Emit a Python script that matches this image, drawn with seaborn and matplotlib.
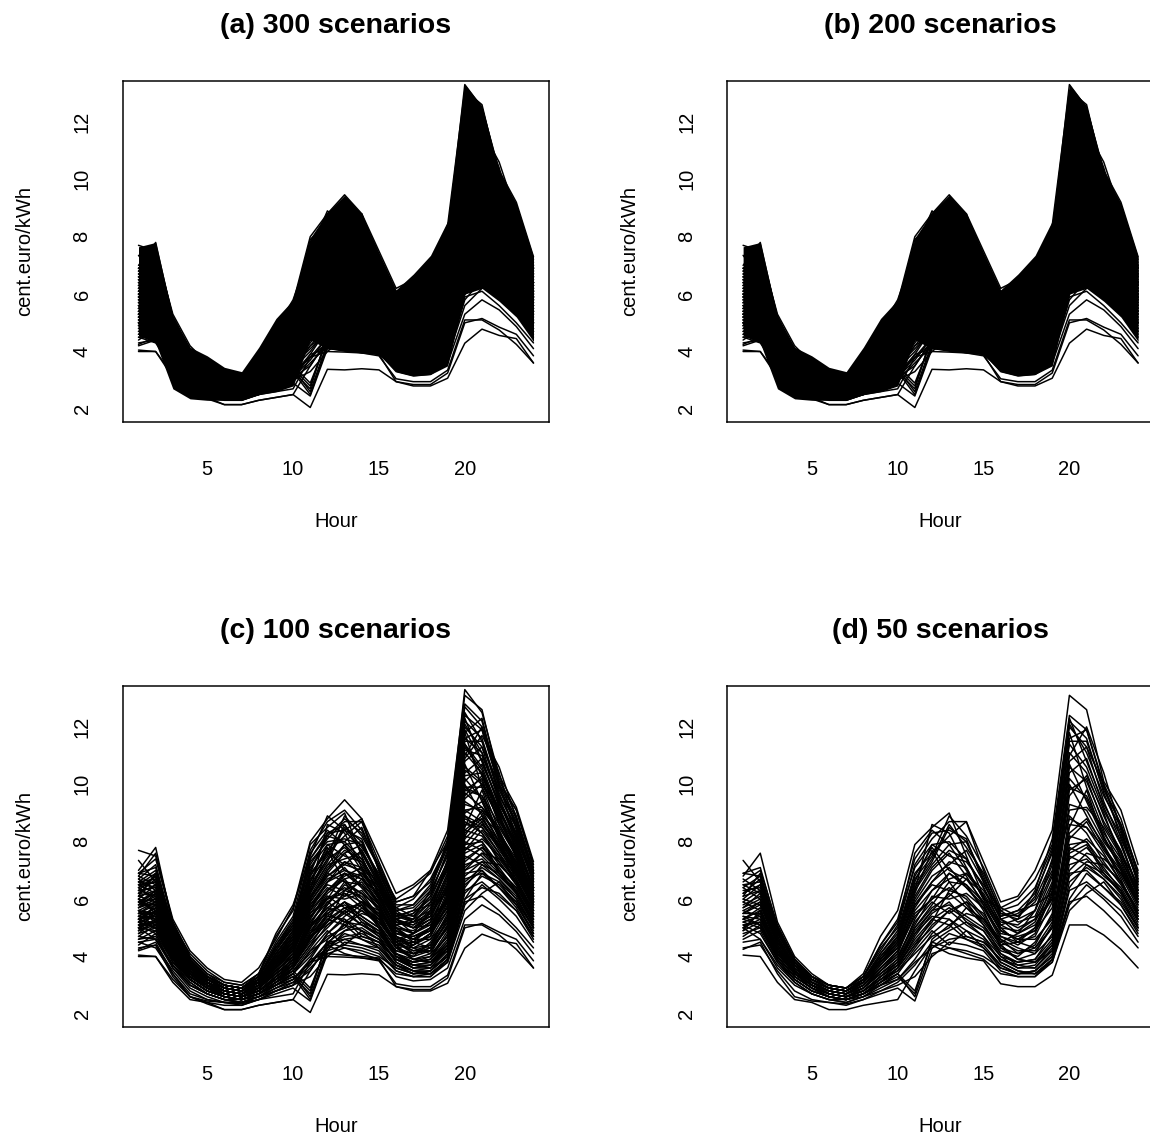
import matplotlib
matplotlib.use("Agg")
import matplotlib.pyplot as plt
import numpy as np
import pandas as pd
import seaborn as sns

hours = list(range(1, 25))

# ---- reduced scenario set (50 scenarios) -------------------------------
d01 = [6.8, 7.6, 5.2, 4.0, 3.4, 3.0, 2.9, 3.3, 4.3, 5.0, 7.2, 8.1, 8.7, 8.7, 7.3, 5.9, 6.1, 7.0, 8.4, 13.1, 12.6, 10.1, 9.1, 7.2]
d02 = [7.35, 6.6, 5.0, 3.9, 3.3, 3.0, 2.9, 3.4, 4.7, 5.6, 7.9, 8.5, 9.0, 7.5, 6.1, 5.1, 5.3, 6.3, 8.1, 12.4, 11.9, 10.0, 8.8, 6.9]
d03 = [6.1, 6.9, 4.8, 3.8, 3.2, 2.9, 2.8, 3.2, 4.0, 4.7, 6.3, 8.6, 8.3, 7.1, 6.0, 5.7, 6.0, 6.7, 7.9, 12.1, 11.1, 9.6, 8.5, 6.6]
d04 = [5.3, 5.7, 4.2, 3.5, 3.0, 2.7, 2.6, 2.9, 3.4, 3.9, 5.3, 6.3, 6.9, 6.5, 5.6, 4.3, 3.9, 4.1, 5.1, 8.9, 8.3, 7.3, 6.5, 5.5]
d05 = [4.05, 4.0, 3.1, 2.5, 2.4, 2.15, 2.15, 2.3, 2.4, 2.5, 3.5, 4.4, 4.1, 3.95, 3.85, 3.05, 2.95, 2.95, 3.35, 5.1, 5.1, 4.75, 4.25, 3.6]
d06 = [4.25, 4.5, 3.4, 2.6, 2.45, 2.4, 2.35, 2.5, 2.7, 2.9, 2.45, 4.1, 4.3, 4.1, 3.9, 3.4, 3.3, 3.3, 3.8, 5.6, 6.2, 6.6, 5.8, 4.9]
d07 = [5.9, 6.3, 4.6, 3.6, 3.1, 2.8, 2.7, 3.1, 3.8, 4.5, 6.6, 7.9, 8.0, 7.4, 6.4, 5.3, 5.0, 5.3, 6.6, 11.6, 11.9, 9.9, 8.6, 6.8]
d08 = [5.4, 5.1, 4.0, 3.3, 2.9, 2.7, 2.6, 2.8, 3.2, 3.6, 4.7, 5.5, 5.9, 5.2, 4.9, 4.0, 3.6, 3.7, 4.4, 7.6, 7.9, 6.9, 6.2, 5.3]
d09 = [6.5, 6.2, 4.9, 3.9, 3.3, 2.9, 2.8, 3.2, 4.1, 4.9, 6.9, 7.6, 8.2, 8.7, 7.0, 5.5, 5.3, 5.6, 7.2, 11.4, 10.6, 9.1, 7.9, 6.4]
d10 = [5.0, 5.3, 4.1, 3.4, 2.9, 2.6, 2.5, 2.7, 3.1, 3.6, 4.4, 5.0, 5.6, 5.9, 5.1, 4.1, 3.7, 3.6, 4.2, 7.0, 7.6, 7.4, 6.9, 5.9]
d11 = [6.2, 6.7, 4.7, 3.7, 3.2, 2.9, 2.8, 3.1, 3.7, 4.4, 6.0, 7.0, 7.6, 6.8, 5.8, 4.7, 4.4, 4.8, 6.2, 10.6, 10.1, 8.7, 7.7, 6.1]
d12 = [5.6, 5.9, 4.4, 3.6, 3.1, 2.8, 2.7, 3.0, 3.6, 4.1, 5.8, 6.5, 6.3, 6.9, 6.1, 5.0, 4.9, 5.3, 6.0, 9.9, 9.6, 8.3, 7.4, 6.2]
d13 = [4.8, 5.0, 3.9, 3.2, 2.8, 2.6, 2.5, 2.7, 3.0, 3.3, 2.7, 4.6, 5.1, 4.6, 4.3, 3.7, 3.4, 3.5, 4.0, 6.6, 7.1, 6.7, 6.1, 5.0]
d14 = [6.6, 7.0, 5.1, 3.9, 3.3, 3.0, 2.9, 3.3, 4.2, 5.1, 7.6, 8.4, 7.9, 8.0, 6.8, 5.4, 5.6, 6.2, 7.6, 12.0, 11.3, 9.4, 8.0, 6.3]
d15 = [5.5, 5.5, 4.3, 3.5, 3.0, 2.7, 2.6, 2.9, 3.4, 3.8, 5.0, 5.8, 6.6, 5.8, 5.2, 4.4, 4.5, 4.3, 5.2, 8.3, 8.8, 7.9, 6.8, 5.7]
d16 = [5.1, 4.8, 3.8, 3.2, 2.8, 2.6, 2.5, 2.7, 3.1, 3.4, 4.2, 4.9, 4.4, 4.9, 4.6, 3.8, 3.5, 3.4, 3.9, 6.0, 6.9, 6.4, 5.9, 5.0]
d17 = [5.8, 6.1, 4.5, 3.7, 3.1, 2.8, 2.7, 3.1, 3.9, 4.6, 6.4, 7.3, 8.5, 8.0, 6.7, 5.5, 5.4, 5.9, 7.0, 11.1, 10.4, 8.9, 7.6, 6.5]
d18 = [6.9, 7.1, 5.0, 3.9, 3.3, 3.0, 2.9, 3.2, 3.9, 4.5, 5.8, 6.6, 7.3, 7.1, 6.0, 4.9, 4.6, 5.0, 6.5, 10.8, 11.3, 10.0, 8.1, 6.7]
d19 = [5.2, 5.4, 4.1, 3.4, 3.0, 2.7, 2.6, 2.8, 3.3, 3.7, 4.6, 5.3, 5.1, 5.5, 5.3, 4.6, 4.3, 4.1, 4.7, 7.9, 8.0, 7.0, 6.4, 5.4]
d20 = [4.6, 4.9, 3.8, 3.1, 2.7, 2.5, 2.4, 2.6, 2.9, 3.2, 3.9, 4.8, 5.3, 4.9, 4.3, 3.6, 3.4, 3.4, 3.9, 6.3, 6.6, 6.1, 5.6, 4.7]
d21 = [6.3, 6.4, 4.6, 3.7, 3.2, 2.9, 2.8, 3.2, 4.1, 4.8, 6.8, 7.8, 7.0, 6.7, 6.2, 5.2, 5.1, 5.6, 7.4, 11.8, 9.9, 8.4, 7.1, 5.9]
d22 = [5.7, 6.0, 4.4, 3.5, 3.1, 2.8, 2.7, 2.9, 3.5, 4.0, 5.1, 6.1, 6.0, 6.2, 5.7, 4.6, 4.1, 4.4, 5.5, 9.3, 9.1, 8.0, 7.2, 6.0]
d23 = [4.9, 5.2, 4.0, 3.3, 2.9, 2.7, 2.6, 2.7, 3.0, 3.4, 2.6, 4.3, 4.6, 4.7, 4.5, 3.9, 3.6, 3.6, 4.3, 7.2, 7.4, 6.8, 6.3, 5.3]
d24 = [6.0, 5.8, 4.5, 3.6, 3.1, 2.8, 2.7, 3.0, 3.7, 4.3, 5.9, 6.8, 7.2, 7.7, 6.6, 5.3, 4.8, 5.1, 6.0, 10.2, 9.5, 8.2, 7.0, 5.8]
d25 = [5.3, 5.1, 4.1, 3.4, 3.0, 2.7, 2.6, 2.8, 3.3, 3.8, 4.9, 5.6, 5.8, 5.4, 5.0, 4.2, 4.0, 4.5, 5.4, 8.6, 8.5, 7.6, 6.6, 5.5]
d26 = [6.4, 6.8, 4.9, 3.8, 3.3, 3.0, 2.9, 3.3, 4.4, 5.2, 7.1, 7.9, 7.5, 7.3, 6.5, 5.6, 5.8, 6.4, 7.8, 12.3, 10.8, 9.3, 8.2, 6.6]
d27 = [5.0, 5.5, 4.2, 3.4, 3.0, 2.7, 2.6, 2.8, 3.2, 3.7, 4.5, 5.2, 6.3, 6.1, 5.4, 4.4, 3.9, 3.8, 4.5, 7.4, 7.8, 7.1, 6.3, 5.2]
d28 = [5.9, 5.6, 4.3, 3.5, 3.0, 2.8, 2.7, 3.0, 3.6, 4.2, 5.4, 6.0, 6.9, 6.4, 5.7, 4.8, 4.7, 4.9, 5.7, 9.6, 10.3, 9.0, 7.4, 6.1]
d29 = [4.5, 4.6, 3.6, 3.0, 2.7, 2.5, 2.4, 2.6, 2.8, 3.1, 3.7, 4.5, 4.9, 5.2, 4.7, 3.8, 3.5, 3.4, 3.8, 5.8, 6.5, 6.0, 5.4, 4.5]
d30 = [6.7, 6.3, 4.8, 3.8, 3.2, 2.9, 2.8, 3.2, 4.0, 4.7, 6.5, 7.4, 8.6, 7.8, 6.9, 5.6, 5.2, 5.4, 6.8, 11.0, 12.0, 10.4, 8.4, 6.5]
d31 = [5.5, 5.8, 4.3, 3.5, 3.0, 2.8, 2.7, 2.9, 3.5, 4.0, 5.2, 5.9, 5.5, 5.9, 5.5, 4.5, 4.2, 4.2, 5.0, 8.1, 8.7, 7.7, 6.9, 5.8]
d32 = [5.1, 5.2, 4.0, 3.3, 2.9, 2.6, 2.5, 2.7, 3.1, 3.5, 4.3, 5.1, 5.6, 5.1, 4.7, 4.0, 3.8, 3.9, 4.6, 7.5, 7.2, 6.7, 6.0, 5.0]
d33 = [6.2, 6.5, 4.7, 3.7, 3.2, 2.9, 2.8, 3.1, 3.8, 4.4, 6.1, 7.1, 7.7, 7.4, 6.4, 5.1, 4.8, 5.2, 6.4, 10.4, 10.9, 9.2, 7.9, 6.3]
d34 = [4.3, 4.4, 3.5, 2.8, 2.5, 2.4, 2.3, 2.5, 2.8, 3.0, 3.3, 4.0, 4.5, 4.4, 4.2, 3.5, 3.3, 3.3, 3.9, 5.9, 6.1, 5.6, 5.0, 4.3]
d35 = [5.7, 6.2, 4.5, 3.6, 3.1, 2.8, 2.7, 3.0, 3.6, 4.2, 5.6, 6.3, 6.7, 6.9, 6.3, 5.4, 5.6, 5.8, 6.2, 9.1, 9.2, 8.5, 7.5, 6.3]
d36 = [6.0, 6.5, 4.8, 3.8, 3.2, 2.9, 2.8, 3.1, 3.8, 4.5, 6.2, 7.7, 6.6, 6.5, 5.9, 4.9, 4.6, 4.9, 6.3, 10.7, 9.4, 8.1, 7.3, 6.0]
d37 = [5.4, 5.3, 4.2, 3.4, 3.0, 2.7, 2.6, 2.8, 3.3, 3.7, 4.8, 5.4, 5.3, 4.7, 4.5, 3.9, 3.7, 3.8, 4.4, 7.7, 8.1, 7.5, 6.6, 5.6]
d38 = [6.9, 6.8, 5.0, 3.9, 3.3, 3.0, 2.9, 3.3, 4.4, 5.3, 7.4, 8.3, 8.4, 8.1, 6.6, 5.3, 5.5, 6.0, 7.3, 11.5, 11.5, 9.8, 8.6, 7.0]
d39 = [5.2, 5.0, 3.9, 3.2, 2.8, 2.6, 2.5, 2.7, 3.2, 3.5, 4.1, 4.7, 5.0, 5.7, 5.3, 4.4, 3.9, 3.8, 4.2, 6.8, 7.3, 7.2, 6.6, 5.6]
d40 = [4.7, 5.1, 3.9, 3.2, 2.8, 2.6, 2.5, 2.7, 3.0, 3.4, 2.8, 4.5, 4.3, 4.2, 4.0, 3.6, 3.4, 3.5, 4.1, 6.9, 7.0, 6.4, 5.8, 4.8]
d41 = [6.4, 6.0, 4.6, 3.7, 3.2, 2.9, 2.8, 3.1, 3.9, 4.6, 6.3, 7.2, 7.9, 7.0, 6.1, 5.0, 4.5, 4.7, 5.9, 9.8, 10.2, 8.6, 7.6, 6.2]
d42 = [5.6, 5.4, 4.2, 3.5, 3.0, 2.7, 2.6, 2.9, 3.4, 3.9, 5.0, 5.7, 6.1, 6.7, 5.9, 4.9, 4.6, 4.6, 5.3, 8.5, 9.8, 8.1, 7.1, 6.0]
d43 = [5.0, 4.6, 3.7, 3.1, 2.7, 2.5, 2.5, 2.6, 3.0, 3.2, 3.8, 4.3, 4.8, 4.6, 4.4, 3.7, 3.4, 3.5, 4.0, 6.4, 7.2, 6.9, 6.2, 5.1]
d44 = [6.1, 6.3, 4.6, 3.7, 3.1, 2.9, 2.8, 3.1, 3.8, 4.3, 5.7, 6.6, 7.1, 6.4, 5.8, 4.7, 4.5, 5.0, 6.1, 10.0, 8.9, 7.8, 7.0, 5.9]
d45 = [5.5, 5.9, 4.4, 3.5, 3.1, 2.8, 2.7, 3.0, 3.5, 4.1, 5.5, 6.0, 6.4, 6.0, 5.3, 4.5, 4.8, 5.6, 6.9, 8.8, 8.5, 7.8, 6.7, 5.4]
d46 = [4.9, 5.6, 4.0, 3.3, 2.9, 2.6, 2.5, 2.7, 3.1, 3.6, 4.4, 5.3, 5.7, 5.3, 4.9, 4.1, 3.8, 3.9, 4.8, 7.8, 7.5, 6.9, 6.3, 5.3]
d47 = [6.5, 6.6, 4.9, 3.8, 3.2, 2.9, 2.8, 3.2, 3.9, 4.7, 6.7, 7.5, 8.9, 8.2, 7.1, 5.7, 5.4, 6.1, 7.7, 12.2, 11.6, 9.7, 8.3, 6.7]
d48 = [5.3, 5.6, 4.2, 3.4, 3.0, 2.7, 2.6, 2.8, 3.3, 3.8, 4.8, 5.6, 6.2, 5.7, 5.1, 4.3, 4.1, 4.3, 5.0, 8.2, 8.0, 7.2, 6.6, 5.6]

# ---- further scenarios kept in the larger sets ----------------------------
e01 = [4.0, 4.0, 3.2, 2.6, 2.35, 2.15, 2.15, 2.3, 2.4, 2.5, 2.05, 3.38, 3.36, 3.4, 3.36, 2.95, 2.8, 2.8, 3.07, 4.29, 4.78, 4.56, 4.45, 3.6]
e02 = [4.2, 4.4, 3.3, 2.6, 2.4, 2.3, 2.3, 2.5, 2.6, 2.7, 3.8, 4.0, 3.98, 3.95, 3.9, 2.95, 2.85, 2.85, 3.25, 5.0, 5.15, 4.85, 4.6, 3.85]
e03 = [4.5, 4.3, 3.4, 2.7, 2.5, 2.4, 2.4, 2.6, 2.8, 3.0, 3.9, 4.1, 4.05, 4.0, 3.95, 3.3, 3.15, 3.2, 3.6, 5.3, 5.8, 5.45, 4.87, 4.1]
e04 = [7.7, 7.5, 5.3, 4.2, 3.6, 3.2, 3.1, 3.6, 4.6, 5.7, 8.0, 8.8, 9.46, 8.8, 7.5, 6.2, 6.5, 7.0, 8.0, 13.3, 12.5, 10.3, 9.2, 7.3]
e05 = [7.0, 7.8, 5.1, 4.1, 3.5, 3.1, 3.0, 3.4, 4.8, 5.8, 7.5, 8.9, 8.4, 8.8, 7.0, 6.0, 6.4, 6.9, 8.2, 12.8, 12.2, 10.0, 9.1, 7.1]
e06 = [6.0, 5.5, 4.5, 3.6, 3.1, 2.8, 2.7, 3.0, 3.8, 4.4, 6.0, 6.9, 7.6, 7.9, 6.7, 5.2, 5.0, 5.4, 6.7, 10.9, 11.7, 10.6, 8.8, 6.9]
e07 = [5.3, 5.0, 4.0, 3.3, 2.9, 2.7, 2.6, 2.9, 3.4, 3.9, 5.0, 5.8, 6.5, 6.2, 5.4, 4.5, 4.2, 4.4, 5.4, 9.0, 9.4, 8.2, 7.3, 6.1]
e08 = [6.3, 6.8, 4.9, 3.8, 3.2, 2.9, 2.8, 3.2, 4.1, 4.9, 6.9, 8.3, 8.6, 7.6, 6.5, 5.4, 5.3, 5.9, 7.1, 11.3, 10.5, 9.0, 8.0, 6.4]
e09 = [4.8, 5.3, 4.0, 3.2, 2.8, 2.6, 2.5, 2.7, 3.0, 3.3, 2.5, 4.2, 4.9, 5.0, 4.6, 3.9, 3.7, 3.8, 4.4, 7.1, 7.6, 7.0, 6.2, 5.1]
e10 = [5.8, 5.8, 4.4, 3.6, 3.1, 2.8, 2.7, 3.0, 3.7, 4.3, 5.7, 6.4, 6.1, 6.3, 5.6, 4.6, 4.4, 4.7, 5.8, 9.4, 9.0, 8.0, 7.0, 5.8]
e11 = [6.6, 6.4, 4.9, 3.9, 3.3, 3.0, 2.9, 3.3, 4.3, 5.2, 7.3, 8.0, 8.1, 7.9, 6.8, 5.5, 5.2, 5.7, 7.1, 11.9, 10.8, 9.3, 8.3, 6.8]
e12 = [5.1, 5.6, 4.1, 3.4, 2.9, 2.7, 2.6, 2.8, 3.2, 3.7, 4.6, 5.5, 5.9, 5.4, 5.0, 4.1, 3.9, 4.0, 4.7, 7.7, 8.4, 7.6, 6.8, 5.7]
e13 = [5.6, 5.2, 4.2, 3.4, 3.0, 2.7, 2.6, 2.9, 3.5, 4.0, 5.3, 6.2, 6.7, 6.0, 5.5, 4.3, 4.0, 4.2, 5.1, 8.4, 8.9, 8.3, 7.1, 5.9]
e14 = [6.2, 6.1, 4.7, 3.7, 3.2, 2.9, 2.8, 3.1, 3.9, 4.6, 6.2, 7.2, 7.4, 7.6, 6.5, 5.3, 5.1, 5.4, 6.5, 10.5, 10.0, 8.9, 7.8, 6.4]
e15 = [4.6, 4.7, 3.7, 3.0, 2.7, 2.5, 2.4, 2.6, 2.9, 3.1, 3.5, 4.4, 4.7, 4.8, 4.5, 3.7, 3.5, 3.6, 4.0, 6.2, 6.8, 6.5, 5.9, 4.8]
e16 = [6.9, 7.4, 5.2, 4.0, 3.4, 3.1, 3.0, 3.4, 4.5, 5.4, 7.7, 8.7, 9.1, 8.4, 7.2, 5.9, 6.1, 6.6, 7.9, 12.7, 12.0, 10.2, 8.9, 7.0]
e17 = [5.4, 5.7, 4.3, 3.5, 3.0, 2.8, 2.7, 2.9, 3.4, 3.9, 5.1, 5.5, 5.2, 5.6, 5.2, 4.6, 4.8, 5.2, 5.9, 8.7, 8.3, 7.5, 6.7, 5.6]
e18 = [5.9, 6.2, 4.6, 3.6, 3.1, 2.8, 2.7, 3.0, 3.7, 4.4, 6.0, 7.0, 7.9, 7.3, 6.2, 5.0, 4.6, 4.9, 6.1, 10.1, 10.7, 9.4, 8.0, 6.4]
e19 = [5.0, 4.9, 3.9, 3.2, 2.8, 2.6, 2.5, 2.7, 3.1, 3.4, 4.0, 4.8, 5.4, 5.8, 5.0, 4.0, 3.7, 3.7, 4.3, 7.0, 7.3, 6.8, 6.2, 5.2]
e20 = [6.5, 6.9, 4.9, 3.9, 3.3, 3.0, 2.9, 3.2, 4.0, 4.8, 6.6, 7.6, 7.2, 7.0, 6.3, 5.2, 5.0, 5.5, 6.9, 11.2, 11.0, 9.5, 8.2, 6.7]
e21 = [5.2, 5.0, 4.0, 3.3, 2.9, 2.7, 2.6, 2.8, 3.2, 3.6, 4.7, 5.2, 5.7, 5.3, 4.8, 4.1, 3.8, 4.0, 4.9, 8.0, 7.7, 7.0, 6.4, 5.4]
e22 = [6.0, 5.6, 4.5, 3.6, 3.1, 2.8, 2.7, 3.0, 3.7, 4.2, 5.6, 6.6, 6.9, 6.7, 5.9, 4.8, 4.6, 5.0, 6.0, 9.7, 9.2, 8.3, 7.3, 6.1]
e23 = [4.4, 4.8, 3.6, 2.9, 2.6, 2.4, 2.4, 2.5, 2.8, 3.0, 3.6, 4.2, 4.4, 4.3, 4.1, 3.5, 3.3, 3.4, 3.9, 6.0, 6.4, 6.2, 5.6, 4.6]
e24 = [6.8, 6.5, 5.0, 3.9, 3.3, 3.0, 2.9, 3.3, 4.2, 5.0, 7.0, 8.2, 8.0, 8.5, 7.0, 5.6, 5.7, 6.3, 7.5, 11.8, 12.3, 9.9, 8.7, 6.9]
e25 = [5.7, 5.9, 4.4, 3.5, 3.1, 2.8, 2.7, 3.0, 3.5, 4.0, 5.4, 6.1, 5.7, 5.8, 5.3, 4.4, 4.3, 4.6, 5.6, 9.1, 8.7, 7.8, 7.0, 5.9]
e26 = [5.4, 5.4, 4.1, 3.4, 3.0, 2.7, 2.6, 2.8, 3.3, 3.8, 4.8, 5.9, 6.3, 6.6, 5.8, 4.7, 4.3, 4.4, 5.2, 8.2, 9.1, 8.4, 7.2, 6.0]
e27 = [6.4, 6.6, 4.8, 3.8, 3.2, 2.9, 2.8, 3.2, 4.0, 4.7, 6.4, 7.4, 7.8, 7.2, 6.3, 5.3, 5.5, 6.1, 7.3, 11.4, 10.3, 8.8, 7.7, 6.4]
e28 = [4.9, 5.1, 3.9, 3.2, 2.8, 2.6, 2.5, 2.7, 3.0, 3.4, 4.2, 4.6, 5.1, 4.9, 4.6, 3.9, 3.6, 3.7, 4.3, 6.7, 6.9, 6.6, 6.0, 5.0]
e29 = [5.8, 6.3, 4.5, 3.6, 3.1, 2.8, 2.7, 3.0, 3.6, 4.3, 5.9, 6.7, 7.0, 6.8, 6.0, 5.1, 5.2, 5.5, 6.3, 9.9, 9.9, 8.8, 7.5, 6.2]
e30 = [5.5, 5.3, 4.2, 3.4, 3.0, 2.7, 2.6, 2.9, 3.4, 3.9, 5.1, 5.7, 5.5, 5.1, 4.8, 4.2, 4.1, 4.2, 5.0, 7.9, 8.6, 7.9, 6.9, 5.7]
e31 = [6.1, 5.9, 4.6, 3.7, 3.2, 2.9, 2.8, 3.1, 3.8, 4.4, 6.1, 6.8, 7.3, 6.9, 6.1, 5.0, 4.8, 5.2, 6.4, 10.3, 10.4, 9.1, 7.8, 6.3]
e32 = [4.7, 4.6, 3.7, 3.0, 2.7, 2.5, 2.4, 2.6, 2.9, 3.2, 3.8, 4.5, 4.6, 4.4, 4.3, 3.7, 3.5, 3.5, 4.1, 6.5, 7.0, 6.4, 5.7, 4.7]
e33 = [6.7, 7.2, 5.0, 3.9, 3.3, 3.0, 2.9, 3.3, 4.3, 5.1, 7.4, 8.2, 8.8, 8.3, 7.1, 5.8, 5.8, 6.5, 7.9, 12.5, 11.5, 9.6, 8.5, 6.9]
e34 = [5.3, 5.4, 4.1, 3.3, 2.9, 2.7, 2.6, 2.8, 3.3, 3.7, 4.6, 5.4, 5.9, 5.6, 5.1, 4.3, 4.4, 4.8, 5.6, 8.4, 8.2, 7.4, 6.6, 5.5]
e35 = [6.3, 6.1, 4.7, 3.7, 3.2, 2.9, 2.8, 3.1, 3.9, 4.5, 6.0, 6.9, 6.6, 6.2, 5.7, 4.7, 4.4, 4.8, 6.0, 9.8, 9.6, 8.6, 7.5, 6.1]
e36 = [5.0, 5.2, 4.0, 3.3, 2.9, 2.6, 2.5, 2.7, 3.1, 3.5, 2.9, 4.4, 5.2, 5.1, 4.8, 4.0, 3.8, 3.9, 4.5, 7.3, 7.8, 7.3, 6.5, 5.4]
e37 = [5.9, 6.0, 4.5, 3.6, 3.1, 2.8, 2.7, 3.0, 3.6, 4.2, 5.5, 6.3, 6.8, 7.1, 6.4, 5.3, 5.0, 5.1, 5.9, 9.5, 10.0, 9.2, 7.7, 6.4]
e38 = [6.6, 6.7, 4.9, 3.8, 3.3, 3.0, 2.9, 3.2, 4.1, 4.9, 6.8, 7.7, 8.4, 7.7, 6.6, 5.4, 5.2, 5.8, 7.2, 11.6, 11.1, 9.5, 8.1, 6.6]
e39 = [5.6, 5.5, 4.3, 3.5, 3.0, 2.8, 2.7, 2.9, 3.5, 4.0, 5.2, 6.0, 6.2, 5.9, 5.4, 4.5, 4.1, 4.3, 5.3, 8.6, 8.8, 8.0, 6.9, 5.8]
e40 = [5.2, 5.8, 4.2, 3.4, 3.0, 2.7, 2.6, 2.8, 3.2, 3.7, 4.7, 5.1, 5.5, 5.9, 5.6, 4.8, 4.7, 5.0, 5.7, 8.9, 8.6, 7.9, 7.0, 5.9]

# upper / lower edge of the densely overlapping scenario bundle (300 and 200 sets)
bundle_hi = [7.65, 7.8, 5.25, 4.15, 3.85, 3.45, 3.3, 4.15, 5.15, 5.8, 7.95, 8.85, 9.45, 8.8, 7.45, 6.15, 6.7, 7.35, 8.55, 13.3, 12.55, 10.3, 9.15, 7.3]
bundle_lo = [4.55, 4.3, 2.7, 2.35, 2.3, 2.3, 2.3, 2.5, 2.6, 2.8, 4.4, 4.1, 4.0, 3.95, 3.9, 3.3, 3.15, 3.2, 3.5, 6.0, 6.2, 5.75, 5.2, 4.35]

set_50 = [d01, d02, d03, d04, d05, d06, d07, d08, d09, d10, d11, d12, d13, d14, d15, d16,
          d17, d18, d19, d20, d21, d22, d23, d24, d25, d26, d27, d28, d29, d30, d31, d32,
          d33, d34, d35, d36, d37, d38, d39, d40, d41, d42, d43, d44, d45, d46, d47, d48]
extra = [e01, e02, e03, e04, e05, e06, e07, e08, e09, e10, e11, e12, e13, e14, e15, e16, e17,
         e18, e19, e20, e21, e22, e23, e24, e25, e26, e27, e28, e29, e30, e31, e32, e33, e34,
         e35, e36, e37, e38, e39, e40]
set_100 = set_50 + extra

titles = ["(a) 300 scenarios", "(b) 200 scenarios", "(c) 100 scenarios", "(d) 50 scenarios"]
scenario_sets = [set_100, set_100, set_100, set_50]
show_bundle = [True, True, False, False]


def to_long(profiles):
    rows = []
    for k, prof in enumerate(profiles):
        for h, v in zip(hours, prof):
            rows.append((k, h, v))
    return pd.DataFrame(rows, columns=["scenario", "Hour", "price"])


sns.set_theme(style="white")
plt.rcParams["font.family"] = ["Liberation Sans", "DejaVu Sans"]
plt.rcParams.update({"text.color": "black", "axes.labelcolor": "black",
                     "xtick.color": "black", "ytick.color": "black"})

W, H = 1150, 1144
fig = plt.figure(figsize=(W / 100, H / 100), dpi=100)

# axes boxes in pixels: left, top
boxes = [(122.7, 80.7), (727.3, 80.7), (122.7, 685.7), (727.3, 685.7)]
bw, bh = 426.6, 341.0
lw_px = 1.5
lw = lw_px * 72 / 100

for title, profs, bundle, (bx, by) in zip(titles, scenario_sets, show_bundle, boxes):
    ax = fig.add_axes([bx / W, 1 - (by + bh) / H, bw / W, bh / H])
    if bundle:
        ax.fill_between(hours, bundle_lo, bundle_hi, color="black", lw=0)
    sns.lineplot(data=to_long(profs), x="Hour", y="price", units="scenario",
                 estimator=None, color="black", linewidth=lw, ax=ax, legend=False)
    ax.set_xlim(0.08, 24.92)
    ax.set_ylim(1.555, 13.435)
    ax.set_xticks([5, 10, 15, 20])
    ax.set_yticks([2, 4, 6, 8, 10, 12])
    for sp in ax.spines.values():
        sp.set_visible(True)
        sp.set_color("black")
        sp.set_linewidth(lw)
    ax.tick_params(axis="both", direction="out", length=15 * 0.72, width=lw,
                   color="black", labelsize=14.5, labelcolor="black")
    ax.tick_params(axis="x", pad=17)
    ax.tick_params(axis="y", pad=18.5)
    for lbl in ax.get_yticklabels():
        lbl.set_rotation(90)
        lbl.set_ha("center")
        lbl.set_va("center")
    ax.set_xlabel("Hour", fontsize=14.5, color="black")
    ax.xaxis.set_label_coords(0.5, -100 / bh)
    ax.xaxis.label.set_va("center")
    ax.set_ylabel("cent.euro/kWh", fontsize=14.5, color="black")
    ax.yaxis.set_label_coords(-98 / bw, 0.5)
    ax.yaxis.label.set_va("center")
    ax.set_title(title, fontsize=20.5, fontweight="bold", y=1 + 54.7 / bh,
                 va="center", pad=0, color="black")

fig.savefig("out.png", dpi=100, facecolor="white")
